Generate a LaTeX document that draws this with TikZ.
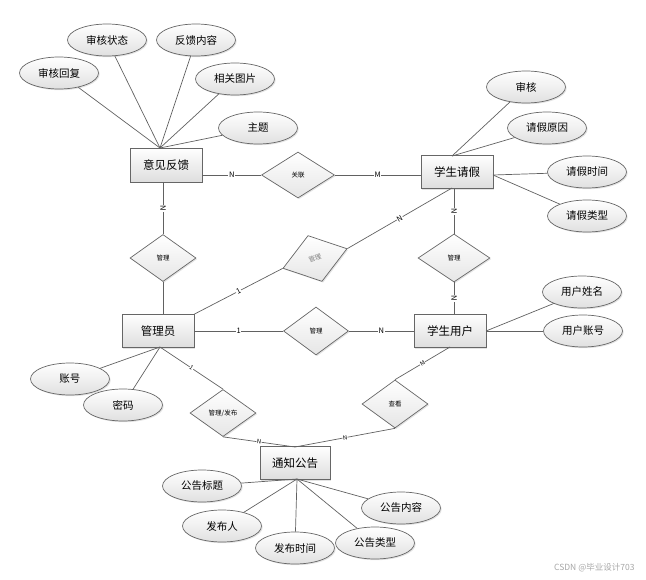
\documentclass[tikz,border=0pt]{standalone}
\usepackage{fontspec}
\setmainfont{Noto Sans CJK SC}
\usetikzlibrary{shapes.geometric,shadows,calc}
\begin{document}
\begin{tikzpicture}[x=1pt,y=-1pt,
  ln/.style={draw=black!62, line width=0.7pt},
  shad/.style={drop shadow={opacity=0.22, shadow xshift=1.2pt, shadow yshift=-1.2pt}},
  ent/.style={rectangle, draw=black!60, line width=0.8pt, top color=white, bottom color=black!13, minimum width=72pt, minimum height=33pt, inner sep=0pt, font=\fontsize{11.5}{12}\selectfont, shad},
  attr/.style={ellipse, draw=black!60, line width=0.7pt, top color=white, bottom color=black!12, minimum width=79pt, minimum height=32pt, inner sep=0pt, font=\fontsize{10.5}{12}\selectfont, shad},
  rel/.style={diamond, draw=black!60, line width=0.7pt, top color=white, bottom color=black!10, minimum width=66pt, minimum height=47pt, inner sep=0pt, font=\fontsize{6.5}{7}\selectfont, shad},
  card/.style={fill=white, inner sep=0.6pt, font=\fontsize{7.5}{8}\selectfont},
  cards/.style={fill=white, inner sep=0.4pt, font=\fontsize{6}{6}\selectfont}
]
\useasboundingbox (0,0) rectangle (646,579);

% entities
\node[ent, minimum height=34pt] (yjfk) at (166,165) {意见反馈};
\node[ent] (xsqj) at (457,172) {学生请假};
\node[ent] (gly) at (158,331) {管理员};
\node[ent] (xsyh) at (450,331) {学生用户};
\node[ent, minimum width=70pt] (tzgg) at (295,463) {通知公告};

% attributes
\node[attr] (shhf) at (59,73) {审核回复};
\node[attr] (shzt) at (107,40) {审核状态};
\node[attr] (fknr) at (196,40) {反馈内容};
\node[attr] (xgtp) at (235,79) {相关图片};
\node[attr] (zt) at (258,128) {主题};
\node[attr] (sh) at (526,87) {审核};
\node[attr] (qjyy) at (547,128) {请假原因};
\node[attr] (qjsj) at (587,172) {请假时间};
\node[attr] (qjlx) at (587,216) {请假类型};
\node[attr] (yhxm) at (582,292) {用户姓名};
\node[attr] (yhzh) at (583,331) {用户账号};
\node[attr] (zh) at (70,379) {账号};
\node[attr] (mm) at (123,405) {密码};
\node[attr] (ggbt) at (202,486) {公告标题};
\node[attr] (fbr) at (222,526) {发布人};
\node[attr] (fbsj) at (295,548) {发布时间};
\node[attr] (gglx) at (375,543) {公告类型};
\node[attr] (ggnr) at (401,508) {公告内容};

% relationships
\node[rel, minimum width=73pt, minimum height=46pt] (gl) at (298,175) {关联};
\node[rel] (r1) at (163,258) {管理};
\node[rel, minimum width=72pt, minimum height=48pt] (r2) at (454,258) {管理};
\node[rel, minimum width=65pt, minimum height=48pt] (r3) at (316,331) {管理};
\node[rel, minimum width=67pt, minimum height=48pt, rotate=17, text=black!50] (r4) at (315,258.5) {管理};
\node[rel] (r5) at (223,413) {管理/发布};
\node[rel, minimum height=48pt] (r6) at (395,404) {查看};

% connection points
\coordinate (yjfkT) at (160,148);
\coordinate (xsqjT) at (452,156);
\coordinate (xsqjR) at (493,175);
\coordinate (xsqjB) at (452,188);
\coordinate (xsyhR) at (486,331);
\coordinate (xsyhB) at (450,347);
\coordinate (glyB) at (160,347);
\coordinate (tzggT) at (295,447);
\coordinate (tzggB) at (297,479);

% attribute lines
\foreach \a in {shhf,shzt,fknr,xgtp,zt} \draw[ln] (yjfkT) -- (\a);
\foreach \a in {sh,qjyy} \draw[ln] (xsqjT) -- (\a);
\foreach \a in {qjsj,qjlx} \draw[ln] (xsqjR) -- (\a);
\foreach \a in {yhxm,yhzh} \draw[ln] (xsyhR) -- (\a);
\foreach \a in {zh,mm} \draw[ln] (glyB) -- (\a);
\foreach \a in {ggbt,fbr,fbsj,gglx,ggnr} \draw[ln] (tzggB) -- (\a);

% relationship lines
\draw[ln] (yjfk.east |- gl.west) -- node[card]{N} (gl.west);
\draw[ln] (gl.east) -- node[card]{M} (xsqj.west |- gl.east);
\draw[ln] (r1.north |- yjfk.south) -- node[card, sloped]{N} (r1.north);
\draw[ln] (r1.south) -- (r1.south |- gly.north);
\draw[ln] (r2.north |- xsqj.south) -- node[card, sloped]{N} (r2.north);
\draw[ln] (r2.south) -- node[card, sloped]{N} (r2.south |- xsyh.north);
\draw[ln] (gly.east) -- node[card]{1} (r3.west);
\draw[ln] (r3.east) -- node[card]{N} (xsyh.west);
\draw[ln] (gly.north east) -- node[card, sloped]{1} (r4.west);
\draw[ln] (r4.east) -- node[card, sloped]{N} (xsqjB);
\draw[ln] (glyB) -- node[cards, sloped]{1} (r5.north);
\draw[ln] (r5.south) -- node[cards, sloped]{N} (tzggT);
\draw[ln] (r6.south) -- node[cards, sloped]{N} (tzggT);
\draw[ln] (r6.north) -- node[cards, sloped]{M} (xsyhB);

% watermark
\node[text=black!35, font=\fontsize{8.5}{9}\selectfont, anchor=east] (wm) at (638,568) {CSDN @毕业设计703};
\end{tikzpicture}
\end{document}
